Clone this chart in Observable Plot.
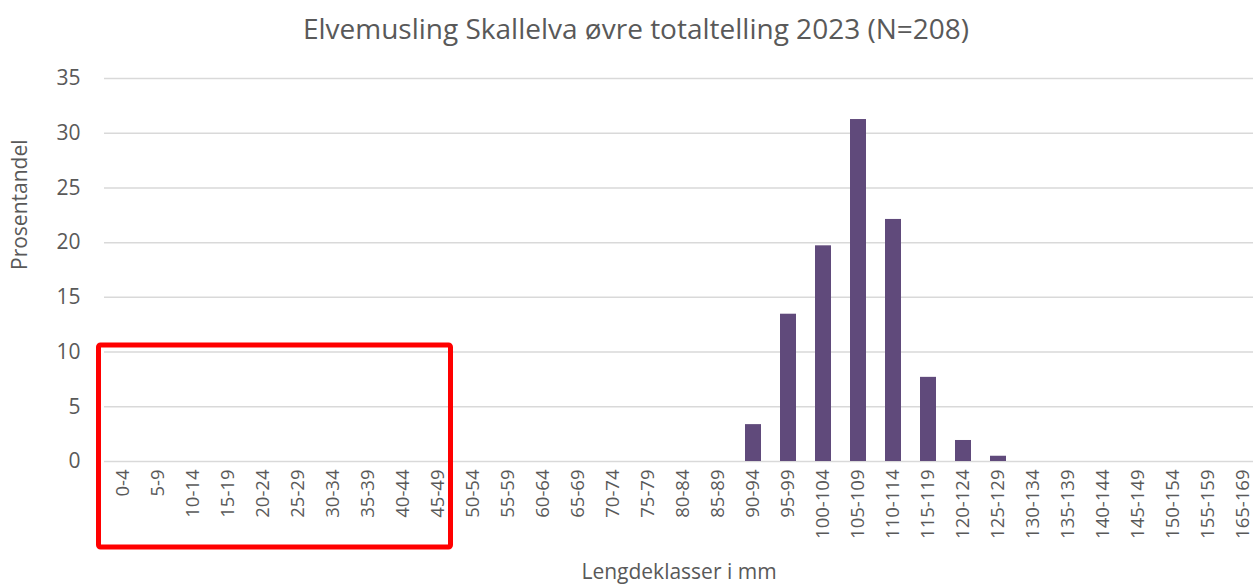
<!DOCTYPE html>
<html>
<head>
<meta charset="utf-8">
<script src="https://cdn.jsdelivr.net/npm/d3@7"></script>
<script src="https://cdn.jsdelivr.net/npm/@observablehq/plot@0.6"></script>
<style>
  html, body { margin: 0; padding: 0; background: #fff; }
  #chart svg { display: block; }
</style>
</head>
<body>
<div id="chart"></div>
<script>
const categories = ["0-4","5-9","10-14","15-19","20-24","25-29","30-34","35-39","40-44","45-49",
  "50-54","55-59","60-64","65-69","70-74","75-79","80-84","85-89","90-94","95-99",
  "100-104","105-109","110-114","115-119","120-124","125-129","130-134","135-139",
  "140-144","145-149","150-154","155-159","165-169"];
const values = [0,0,0,0,0,0,0,0,0,0,
  0,0,0,0,0,0,0,0,3.37,13.46,
  19.71,31.25,22.12,7.69,1.92,0.48,0,0,
  0,0,0,0,0];
const yTicks = [0,5,10,15,20,25,30,35];
const title = "Elvemusling Skallelva øvre totaltelling 2023 (N=208)";
const xLabel = "Lengdeklasser i mm";
const yLabel = "Prosentandel";
const highlight = {from: "0-4", to: "45-49", top: 10.6};

const data = categories.map((c, i) => ({cat: c, v: values[i]}));

const plot = Plot.plot({
  width: 1253,
  height: 584,
  marginTop: 78,
  marginBottom: 123,
  marginLeft: 104,
  marginRight: 0,
  style: {fontFamily: "'Open Sans', sans-serif", color: "#595959", background: "#fff"},
  x: {domain: categories, range: [102.5, 1263], paddingInner: 0.55, paddingOuter: 0.275, align: 0.5},
  y: {domain: [0, 35]},
  marks: [
    Plot.ruleY(yTicks, {stroke: "#d9d9d9", strokeWidth: 1.5}),
    Plot.barY(data, {x: "cat", y: "v", fill: "#604a7b"}),
    Plot.axisY({ticks: yTicks, tickSize: 0, tickPadding: 24, fontSize: 21, label: null}),
    Plot.axisX({tickSize: 0, tickRotate: -90, tickPadding: 8, fontSize: 18.5, label: null}),
    Plot.text([title], {frameAnchor: "top", dy: -59, dx: -43, fontSize: 28, fill: "#595959"}),
    Plot.text([xLabel], {frameAnchor: "bottom", dy: 117, fontSize: 21, fill: "#595959"}),
    Plot.text([yLabel], {frameAnchor: "left", dx: -84, rotate: -90, fontSize: 21, fill: "#595959"})
  ]
});

// Red highlight box derived from scales
const xs = plot.scale("x"), ys = plot.scale("y");
const bw = xs.bandwidth, step = xs.step;
const gap = step - bw;
const x0 = xs.apply(highlight.from) - gap / 2 - 7;
const x1 = xs.apply(highlight.to) + bw + gap / 2 - 5;
const y0 = ys.apply(highlight.top);
const y1 = 584 - 37;
d3.select(plot).append("rect")
  .attr("x", x0).attr("y", y0)
  .attr("width", x1 - x0).attr("height", y1 - y0)
  .attr("fill", "none").attr("stroke", "#ff0000").attr("stroke-width", 5)
  .attr("rx", 2);

document.getElementById("chart").append(plot);
</script>
</body>
</html>
